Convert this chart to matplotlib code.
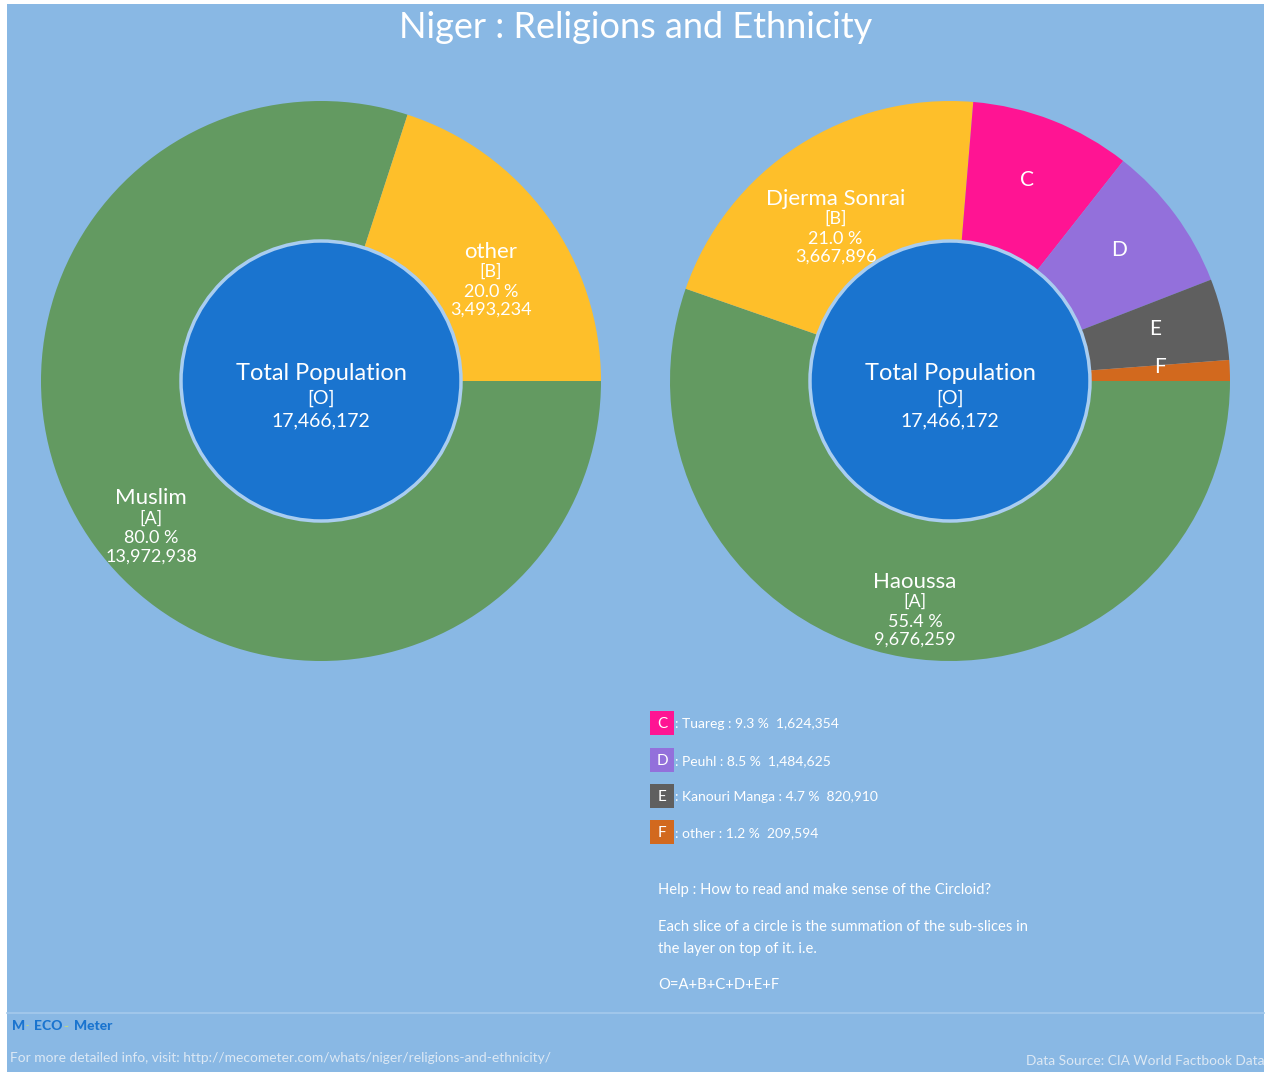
import matplotlib
matplotlib.use("Agg")
import matplotlib.pyplot as plt
from matplotlib.patches import Rectangle, Circle
import numpy as np

plt.rcParams['font.family'] = ['Lato', 'DejaVu Sans']

# ---- data ----
total_population = "17,466,172"
religion_names = ["Muslim", "other"]
religion_codes = ["A", "B"]
religion_pct = [80.0, 20.0]
religion_counts = ["13,972,938", "3,493,234"]
religion_colors = ["#639A61", "#FEBF2A"]

ethnic_names = ["Haoussa", "Djerma Sonrai", "Tuareg", "Peuhl", "Kanouri Manga", "other"]
ethnic_codes = ["A", "B", "C", "D", "E", "F"]
ethnic_pct = [55.4, 21.0, 9.3, 8.5, 4.7, 1.2]
ethnic_counts = ["9,676,259", "3,667,896", "1,624,354", "1,484,625", "820,910", "209,594"]
ethnic_colors = ["#639A61", "#FEBF2A", "#FF1493", "#9370DB", "#5F5F5F", "#D2691E"]
ethnic_full_label = [True, True, False, False, False, False]

BG = "#89B8E4"
INNER = "#1A74CF"
W, H = 1278, 1072

fig = plt.figure(figsize=(W / 100, H / 100), dpi=100)
fig.patch.set_facecolor("white")
ax = fig.add_axes([0, 0, 1, 1])

def Y(y):
    return H - y

ax.add_patch(Rectangle((7, 0), 1257, H - 4, facecolor=BG, edgecolor="none", zorder=0))
ax.plot([7, 1264], [Y(1013), Y(1013)], color="#A5CAEC", lw=1.2, zorder=1)

R_OUT = 280
R_IN = 140

def donut(cx, cy, values, colors, names, codes, pcts, counts, full):
    wedges, _ = ax.pie(values, colors=colors, startangle=0, counterclock=False,
                       center=(cx, Y(cy)), radius=R_OUT,
                       wedgeprops=dict(edgecolor="none", linewidth=0), frame=True)
    for w in wedges:
        w.set_zorder(2)
    ax.add_patch(Circle((cx, Y(cy)), R_IN, facecolor=INNER, edgecolor="#A9CDF0",
                        linewidth=2.5, zorder=3))
    ax.text(cx, Y(cy - 8), "Total Population", color="white", fontsize=17,
            ha="center", va="center", zorder=4)
    ax.text(cx, Y(cy + 17), "[O]", color="white", fontsize=14,
            ha="center", va="center", zorder=4)
    ax.text(cx, Y(cy + 40), total_population, color="white", fontsize=14,
            ha="center", va="center", zorder=4)
    for w, n, c, p, cnt, f in zip(wedges, names, codes, pcts, counts, full):
        ang = 0.5 * (w.theta1 + w.theta2)
        x = cx + 0.75 * R_OUT * np.cos(np.radians(ang))
        y = Y(cy) + 0.75 * R_OUT * np.sin(np.radians(ang)) + 6
        if f:
            ax.text(x, y, n, color="white", fontsize=16, ha="center", va="center", zorder=4)
            ax.text(x, y - 20, f"[{c}]", color="white", fontsize=13, ha="center", va="center", zorder=4)
            ax.text(x, y - 40, f"{p:.1f} %", color="white", fontsize=13, ha="center", va="center", zorder=4)
            ax.text(x, y - 58, cnt, color="white", fontsize=13, ha="center", va="center", zorder=4)
        else:
            ax.text(x, y, c, color="white", fontsize=15, ha="center", va="center", zorder=4)

donut(321, 381, religion_pct, religion_colors, religion_names, religion_codes,
      religion_pct, religion_counts, [True, True])
donut(950, 381, ethnic_pct, ethnic_colors, ethnic_names, ethnic_codes,
      ethnic_pct, ethnic_counts, ethnic_full_label)

# title
ax.text(636, Y(28), "Niger : Religions and Ethnicity", color="white", fontsize=26,
        ha="center", va="center", zorder=4)

# legend for small slices
leg_y = [723, 760, 796, 832]
for yy, n, c, p, cnt, col in zip(leg_y, ethnic_names[2:], ethnic_codes[2:], ethnic_pct[2:],
                                 ethnic_counts[2:], ethnic_colors[2:]):
    ax.add_patch(Rectangle((650, Y(yy + 12)), 24, 24, facecolor=col, edgecolor="none", zorder=3))
    ax.text(662, Y(yy + 1), c, color="white", fontsize=11, ha="center", va="center", zorder=4)
    ax.text(675, Y(yy + 1), f": {n} : {p} %  {cnt}", color="white", fontsize=10,
            ha="left", va="center", zorder=4)

help_lines = [(890, "Help : How to read and make sense of the Circloid?"),
              (927, "Each slice of a circle is the summation of the sub-slices in"),
              (949, "the layer on top of it. i.e."),
              (985, "O=A+B+C+D+E+F")]
for yy, t in help_lines:
    ax.text(658, Y(yy), t, color="white", fontsize=10.6, ha="left", va="center", zorder=4)

# footer logo
ax.text(12, Y(1026), "M", color="#1A74CF", fontsize=10, fontweight="black", ha="left", va="center", zorder=4)
ax.text(25.5, Y(1026), "-", color="#E6F03C", fontsize=6, ha="left", va="center", zorder=4)
ax.text(34, Y(1026), "ECO", color="#1A74CF", fontsize=10, fontweight="black", ha="left", va="center", zorder=4)
ax.text(64, Y(1027), "~", color="#E6F03C", fontsize=6, ha="left", va="center", zorder=4)
ax.text(74, Y(1026), "Meter", color="#1A74CF", fontsize=10, fontweight="black", ha="left", va="center", zorder=4)
ax.text(10, Y(1058), "For more detailed info, visit: http://mecometer.com/whats/niger/religions-and-ethnicity/",
        color="#DCE8F4", fontsize=9.9, ha="left", va="center", zorder=4)
ax.text(1264, Y(1061), "Data Source: CIA World Factbook Data", color="#DCE8F4", fontsize=9.9,
        ha="right", va="center", zorder=4)

ax.set_xlim(0, W)
ax.set_ylim(0, H)
ax.set_aspect("equal")
ax.axis("off")

fig.savefig("out.png", dpi=100, facecolor="white")
